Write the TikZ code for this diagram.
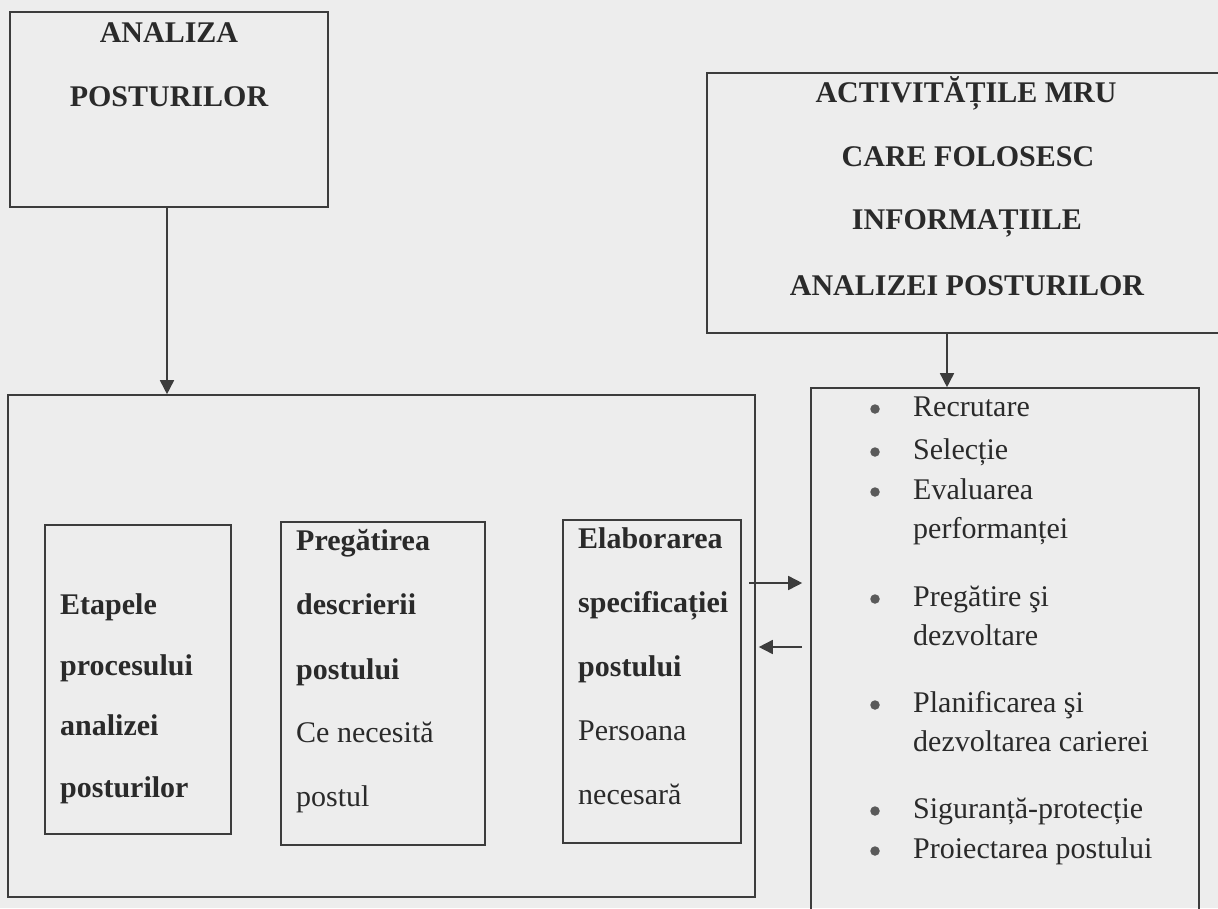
\documentclass[tikz,border=0pt]{standalone}
\usepackage{fontspec}
\setmainfont{Liberation Serif}
\usetikzlibrary{arrows.meta}
\definecolor{ink}{HTML}{3C3C3C}
\definecolor{paper}{HTML}{EDEDED}
\definecolor{txt}{HTML}{2A2A2A}
\definecolor{dotc}{HTML}{5A5A5A}
\begin{document}
\begin{tikzpicture}[x=1pt,y=-1pt,
  box/.style={draw=ink,line width=1.6pt,inner sep=0pt},
  hdr/.style={font=\fontsize{30}{36}\selectfont\bfseries,text=txt,anchor=base,inner sep=0pt},
  bodytxt/.style={font=\fontsize{30}{36}\selectfont,text=txt,anchor=base west,inner sep=0pt},
  boldtxt/.style={font=\fontsize{30}{36}\selectfont\bfseries,text=txt,anchor=base west,inner sep=0pt},
  arr/.style={draw=ink,line width=1.6pt,-{Triangle[length=14pt,width=14pt]}},
  dot/.style={circle,fill=dotc,inner sep=0pt,minimum size=9.5pt}]
\useasboundingbox (0,0) rectangle (1218,908);
\fill[paper] (0,0) rectangle (1218,908);
\begin{scope}
\clip (0,0) rectangle (1218,908);
% boxes
\node[box,minimum width=318pt,minimum height=195pt] (A) at (169,109.5) {};
\node[box,minimum width=747pt,minimum height=502pt] (big) at (381.5,646) {};
\node[box,minimum width=186pt,minimum height=309pt] (E) at (138,679.5) {};
\node[box,minimum width=204pt,minimum height=323pt] (P) at (383,683.5) {};
\node[box,minimum width=178pt,minimum height=323pt] (S) at (652,681.5) {};
\node[box,minimum width=515pt,minimum height=260pt] (H) at (964.5,203) {};
\node[box,minimum width=388pt,minimum height=542pt] (L) at (1005,659) {};
\end{scope}
% headers
\node[hdr] (a1) at (169,42) {ANALIZA};
\node[hdr] (a2) at (169,106) {POSTURILOR};
\node[hdr] (h1) at (966,102) {ACTIVITĂȚILE MRU};
\node[hdr] (h2) at (968,166) {CARE FOLOSESC};
\node[hdr] (h3) at (967,229) {INFORMAȚIILE};
\node[hdr] (h4) at (967,295) {ANALIZEI POSTURILOR};
% inner box texts
\node[boldtxt] (e1) at (60,614) {Etapele};
\node[boldtxt] (e2) at (60,675) {procesului};
\node[boldtxt] (e3) at (60,735) {analizei};
\node[boldtxt] (e4) at (60,797) {posturilor};
\node[boldtxt] (p1) at (296,550) {Pregătirea};
\node[boldtxt] (p2) at (296,614) {descrierii};
\node[boldtxt] (p3) at (296,679) {postului};
\node[bodytxt] (p4) at (296,742) {Ce necesită};
\node[bodytxt] (p5) at (296,806) {postul};
\node[boldtxt] (s1) at (578,548) {Elaborarea};
\node[boldtxt] (s2) at (578,612) {specificației};
\node[boldtxt] (s3) at (578,676) {postului};
\node[bodytxt] (s4) at (578,740) {Persoana};
\node[bodytxt] (s5) at (578,804) {necesară};
% list
\node[bodytxt] (l1) at (913,416) {Recrutare};
\node[bodytxt] (l2) at (913,459) {Selecție};
\node[bodytxt] (l3) at (913,499) {Evaluarea};
\node[bodytxt] (l3b) at (913,538) {performanței};
\node[bodytxt] (l4) at (913,606) {Pregătire şi};
\node[bodytxt] (l4b) at (913,645) {dezvoltare};
\node[bodytxt] (l5) at (913,712) {Planificarea şi};
\node[bodytxt] (l5b) at (913,751) {dezvoltarea carierei};
\node[bodytxt] (l6) at (913,818) {Siguranță-protecție};
\node[bodytxt] (l7) at (913,858) {Proiectarea postului};
\foreach \n/\yy in {b1/416,b2/459,b3/499,b4/606,b5/712,b6/818,b7/858}
  \node[dot] (\n) at (875,\yy-7) {};
% connectors
\coordinate (hx) at (947,0);
\coordinate (ax) at (167,0);
\coordinate (r1) at (749,583);
\coordinate (r2) at (0,647);
\draw[arr] (A.south -| ax) -- (big.north -| ax);
\draw[arr] (H.south -| hx) -- (L.north -| hx);
\draw[arr,shorten >=8pt] (r1) -- (r1 -| L.west);
\draw[arr,shorten <=8pt,shorten >=3pt] (L.west |- r2) -- (big.east |- r2);
\end{tikzpicture}
\end{document}
